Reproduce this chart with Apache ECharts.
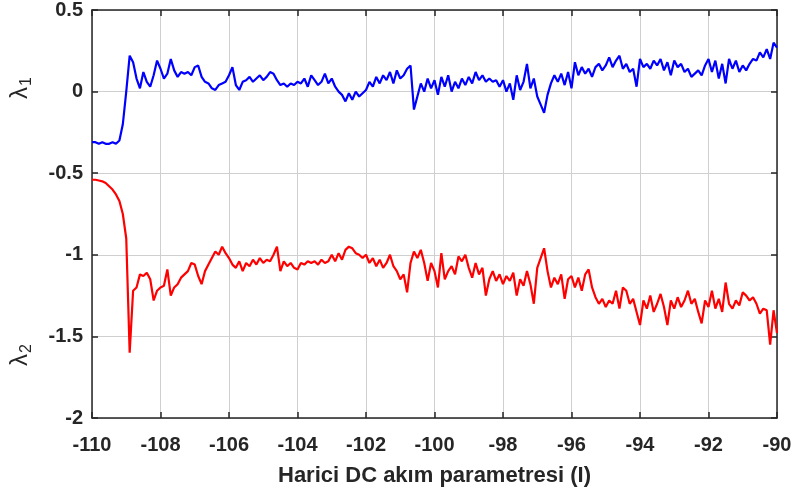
<!DOCTYPE html>
<html>
<head>
<meta charset="utf-8">
<script src="https://cdn.jsdelivr.net/npm/echarts@6/dist/echarts.min.js"></script>
<style>html,body{margin:0;padding:0;background:#fff}#c{width:795px;height:495px}</style>
</head>
<body>
<div id="c"></div>
<script>
// x sampling: -110 to -90 in steps of 0.1 (201 samples)
const xStart = -110;
const xStep = 0.1;
const xTicks = [-110,-108,-106,-104,-102,-100,-98,-96,-94,-92,-90];
const yTicks = [-2,-1.5,-1,-0.5,0,0.5];
const xTitle = 'Harici DC akım parametresi (I)';
const yTitle1 = '{a|λ}{s|1}';
const yTitle2 = '{a|λ}{s|2}';

const lambda1 = [
-0.31,-0.31,-0.32,-0.31,-0.32,-0.32,-0.31,-0.32,-0.30,-0.2,
0.0,0.22,0.18,0.08,0.02,0.12,0.06,0.03,0.1,0.19,
0.14,0.08,0.11,0.2,0.13,0.09,0.12,0.11,0.12,0.1,
0.15,0.16,0.09,0.06,0.05,0.02,0.01,0.04,0.05,0.06,
0.1,0.15,0.04,0.01,0.06,0.07,0.09,0.06,0.08,0.1,
0.07,0.09,0.12,0.11,0.07,0.04,0.05,0.03,0.05,0.04,
0.06,0.05,0.08,0.03,0.1,0.07,0.04,0.06,0.11,0.05,
0.08,0.03,0.0,-0.02,-0.06,-0.01,-0.05,0.0,-0.03,-0.01,
0.01,0.06,0.03,0.09,0.05,0.1,0.07,0.12,0.05,0.13,
0.08,0.1,0.14,0.16,-0.11,-0.03,0.05,0.0,0.08,0.02,
0.07,-0.02,0.09,0.03,0.1,0.0,0.06,0.02,0.08,0.04,
0.09,0.05,0.12,0.07,0.1,0.06,0.08,0.06,0.07,0.03,
0.07,0.0,0.05,-0.05,0.1,0.01,0.06,0.17,0.02,0.08,
-0.03,-0.08,-0.13,-0.02,0.05,0.1,0.06,0.11,0.04,0.12,
0.02,0.18,0.1,0.15,0.11,0.14,0.09,0.15,0.17,0.13,
0.16,0.21,0.15,0.19,0.22,0.14,0.17,0.12,0.14,0.03,
0.2,0.15,0.17,0.14,0.19,0.16,0.2,0.13,0.18,0.1,
0.19,0.15,0.17,0.12,0.14,0.09,0.11,0.13,0.1,0.16,
0.2,0.12,0.19,0.08,0.17,0.05,0.2,0.14,0.19,0.12,
0.16,0.13,0.17,0.2,0.19,0.24,0.21,0.26,0.2,0.3,
0.27
];

const lambda2 = [
-0.54,-0.54,-0.545,-0.55,-0.56,-0.58,-0.6,-0.63,-0.67,-0.75,
-0.9,-1.6,-1.22,-1.2,-1.12,-1.13,-1.11,-1.15,-1.28,-1.22,
-1.2,-1.19,-1.09,-1.25,-1.2,-1.18,-1.14,-1.12,-1.1,-1.05,
-1.06,-1.13,-1.18,-1.1,-1.06,-1.02,-0.98,-1.0,-0.95,-0.99,
-1.02,-1.06,-1.08,-1.04,-1.1,-1.05,-1.07,-1.03,-1.06,-1.02,
-1.05,-1.03,-1.04,-1.0,-0.95,-1.1,-1.04,-1.07,-1.05,-1.08,
-1.09,-1.05,-1.06,-1.04,-1.05,-1.04,-1.06,-1.03,-1.05,-1.04,
-1.0,-1.04,-0.99,-1.03,-0.97,-0.95,-0.96,-0.99,-1.0,-1.02,
-1.0,-1.05,-1.02,-1.07,-1.03,-1.08,-1.05,-1.0,-1.07,-1.1,
-1.15,-1.12,-1.23,-1.05,-0.98,-1.02,-0.97,-1.05,-1.16,-1.05,
-1.1,-1.2,-0.99,-1.15,-1.1,-1.07,-1.12,-1.01,-1.04,-1.0,
-1.08,-1.14,-1.05,-1.12,-1.08,-1.25,-1.15,-1.1,-1.16,-1.12,
-1.18,-1.13,-1.16,-1.11,-1.25,-1.15,-1.19,-1.1,-1.18,-1.3,
-1.08,-1.02,-0.96,-1.1,-1.2,-1.14,-1.18,-1.12,-1.27,-1.15,
-1.13,-1.2,-1.14,-1.22,-1.12,-1.09,-1.2,-1.26,-1.3,-1.27,
-1.32,-1.28,-1.3,-1.22,-1.33,-1.2,-1.22,-1.3,-1.27,-1.35,
-1.43,-1.28,-1.33,-1.25,-1.35,-1.3,-1.24,-1.32,-1.43,-1.28,
-1.33,-1.26,-1.32,-1.28,-1.22,-1.3,-1.27,-1.35,-1.42,-1.28,
-1.32,-1.22,-1.33,-1.27,-1.35,-1.17,-1.3,-1.33,-1.28,-1.31,
-1.23,-1.25,-1.28,-1.26,-1.3,-1.36,-1.33,-1.34,-1.55,-1.34,
-1.48
];

function toPairs(arr){ return arr.map((v,i)=>[+(xStart + i*xStep).toFixed(2), v]); }

const chart = echarts.init(document.getElementById('c'), null, {renderer:'canvas'});
const txt = '#262626';
const ff = 'Liberation Sans, Arial, sans-serif';
const axisLineStyle = {color: '#262626', width: 1.5};
const xMin = xTicks[0], xMax = xTicks[xTicks.length-1];
const yMin = yTicks[0], yMax = yTicks[yTicks.length-1];
const greek = {a:{fontSize:24, color:txt, fontFamily:ff}, s:{fontSize:16, color:txt, fontFamily:ff, padding:[13,0,0,1]}};

function nameAxis(gi, name){
  return {type:'value', gridIndex:gi, min:0, max:1, position:'left',
    axisLine:{show:false}, axisTick:{show:false}, axisLabel:{show:false}, splitLine:{show:false},
    name:name, nameLocation:'middle', nameRotate:90, nameGap:57,
    nameTextStyle:{rich:greek}};
}
function hiddenX(gi){
  return {type:'value', gridIndex:gi, min:0, max:1, show:false};
}

chart.setOption({
  animation: false,
  backgroundColor: '#fff',
  grid: [
    {left: 92, right: 18, top: 8, bottom: 77, containLabel: false},
    {left: 92, right: 18, top: 8, height: 160, containLabel: false},
    {left: 92, right: 18, top: 315, height: 80, containLabel: false}
  ],
  xAxis: [
    {type:'value', min:xMin, max:xMax, interval:2, position:'bottom',
     axisLine:{show:true, onZero:false, lineStyle:axisLineStyle},
     axisTick:{show:true, inside:true, length:6, lineStyle:axisLineStyle},
     axisLabel:{margin:17, formatter: v=>String(v), color:txt, fontSize:20, fontWeight:'bold', fontFamily:ff},
     splitLine:{show:true, lineStyle:{color:'#cfcfcf', width:1}},
     name: xTitle, nameLocation:'middle', nameGap:47,
     nameTextStyle:{color:txt, fontSize:22, fontWeight:'bold', fontFamily:ff}},
    {type:'value', min:xMin, max:xMax, interval:2, position:'top',
     axisLine:{show:true, onZero:false, lineStyle:axisLineStyle},
     axisTick:{show:true, inside:true, length:6, lineStyle:axisLineStyle},
     axisLabel:{show:false}, splitLine:{show:false}},
    hiddenX(1), hiddenX(2)
  ],
  yAxis: [
    {type:'value', min:yMin, max:yMax, interval:0.5, position:'left',
     axisLine:{show:true, onZero:false, lineStyle:axisLineStyle},
     axisTick:{show:true, inside:true, length:6, lineStyle:axisLineStyle},
     axisLabel:{margin:9, padding:[8,0,0,0], formatter: v=>String(v), color:txt, fontSize:20, fontWeight:'bold', fontFamily:ff},
     splitLine:{show:true, lineStyle:{color:'#cfcfcf', width:1}}},
    {type:'value', min:yMin, max:yMax, interval:0.5, position:'right',
     axisLine:{show:true, onZero:false, lineStyle:axisLineStyle},
     axisTick:{show:true, inside:true, length:6, lineStyle:axisLineStyle},
     axisLabel:{show:false}, splitLine:{show:false}},
    nameAxis(1, yTitle1), nameAxis(2, yTitle2)
  ],
  series: [
    {type:'line', name:'λ1', data: toPairs(lambda1), showSymbol:false, symbol:'none',
     lineStyle:{color:'#0000ff', width:2.2}, itemStyle:{color:'#0000ff'}},
    {type:'line', name:'λ2', data: toPairs(lambda2), showSymbol:false, symbol:'none',
     lineStyle:{color:'#ff0000', width:2.2}, itemStyle:{color:'#ff0000'}}
  ]
});
</script>
</body>
</html>
